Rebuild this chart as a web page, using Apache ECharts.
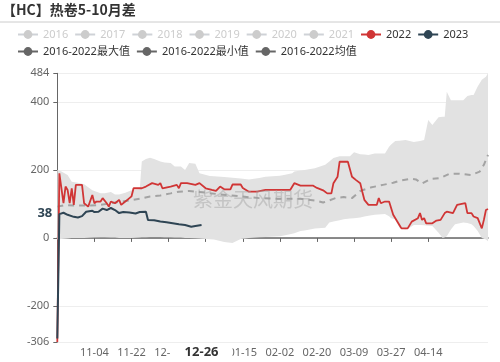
<!DOCTYPE html>
<html><head><meta charset="utf-8">
<script src="https://cdn.jsdelivr.net/npm/echarts@6/dist/echarts.min.js"></script>
<style>html,body{margin:0;padding:0;background:#fff}#c{width:500px;height:362px}</style>
</head><body><div id="c"></div>
<script>
const monthSpans = [[10,17,31],[11,1,30],[12,1,31],[1,1,31],[2,1,29],[3,1,31],[4,1,30],[5,1,13]];
function pad(n){return (n<10?'0':'')+n;}
const categories = [];
monthSpans.forEach(([m,s,e]) => { for (let d=s; d<=e; d++) categories.push(pad(m)+'-'+pad(d)); });

const yTicks = [-306, -200, 0, 200, 400, 484];
const hiddenYears = ['2016','2017','2018','2019','2020','2021'];

const s2022 = [[0,-306],[1,190],[3,102],[4,151],[5,141],[6,102],[7,146],[8,97],[9,156],[12,156],[13,102],[15,92],[17,126],[18,102],[19,107],[21,107],[22,117],[24,102],[25,92],[26,107],[28,102],[30,112],[31,97],[33,107],[34,112],[36,122],[37,146],[41,146],[43,151],[46,161],[49,156],[50,161],[51,146],[55,151],[58,156],[59,146],[60,161],[63,161],[67,156],[69,161],[72,146],[75,141],[77,138],[79,151],[81,143],[84,143],[85,157],[89,157],[90,147],[93,136],[97,136],[101,141],[113,141],[115,161],[118,154],[124,154],[126,147],[129,140],[131,131],[133,131],[134,161],[136,180],[137,224],[141,224],[143,180],[145,170],[147,161],[148,136],[149,112],[151,97],[155,97],[156,117],[157,102],[159,107],[161,107],[163,68],[166,38],[167,28],[170,28],[172,48],[175,58],[176,73],[177,53],[178,58],[179,43],[182,43],[184,51],[186,53],[188,73],[189,77],[192,73],[194,97],[198,102],[199,73],[201,73],[202,63],[204,58],[206,28],[207,53],[208,82],[209,85]];
const s2023 = [[0,-296],[1,70],[3,74],[5,68],[8,62],[10,60],[12,64],[14,77],[17,80],[18,76],[20,77],[22,86],[24,82],[26,88],[28,82],[30,73],[32,76],[35,75],[38,72],[40,76],[43,77],[44,53],[47,52],[50,48],[53,46],[56,43],[59,40],[62,38],[65,33],[67,35],[70,38]];
const sMean = [[0,92],[4,97],[8,95],[14,95],[21,97],[29,105],[35,110],[40,115],[45,122],[50,125],[55,131],[59,136],[64,138],[69,135],[79,128],[89,122],[98,117],[108,115],[118,115],[125,110],[129,104],[135,117],[139,120],[143,117],[147,138],[152,148],[158,156],[163,162],[166,168],[172,174],[174,172],[177,160],[181,173],[186,176],[190,188],[195,189],[201,185],[205,195],[207,215],[209,244]];
const bandDays = [0,2,5,7,10,13,17,21,23,26,28,30,33,36,40,41,43,45,47,50,52,55,57,60,62,64,67,69,74,76,81,85,89,93,98,101,108,110,114,115,118,120,125,130,132,134,137,139,142,144,147,149,151,154,159,161,162,164,166,169,171,173,176,178,180,182,185,187,188,189,191,193,197,199,201,202,204,206,208,209];
const bandMax = [200,195,185,165,162,158,140,131,131,135,128,128,133,140,142,225,232,236,232,225,222,220,210,210,200,220,218,190,182,181,179,177,175,172,176,180,183,185,190,195,198,200,205,215,225,235,240,240,240,252,246,245,244,248,248,268,275,285,286,288,285,282,285,288,347,332,355,356,356,430,405,405,405,417,420,420,445,465,474,484];
const bandMin = [-5,-3,-2,0,0,0,1,2,2,1,1,0,0,0,1,2,2,3,3,3,2,2,1,1,0,0,-1,-2,-4,-5,-12,-15,-3,0,2,3,5,7,12,14,20,22,28,30,45,48,52,55,57,58,60,63,65,68,70,64,58,55,30,25,30,38,38,37,36,35,15,0,2,5,25,40,45,44,40,35,20,0,-5,-10];

const last2023 = s2023[s2023.length-1];
const labelEvery = 18;
const showIdx = (i) => i > 0 && i < 190 && i % labelEvery === 0;

const chart = echarts.init(document.getElementById('c'));
const darkLegend = {itemStyle:{color:'#666'}, lineStyle:{color:'#666', opacity:1, type:'solid', width:2}};
chart.setOption({
  animation:false,
  textStyle:{fontFamily:'"Noto Sans","Noto Sans CJK SC",sans-serif'},
  title:{text:'【HC】热卷5-10月差', left:0, top:0, padding:[3,2],
    textStyle:{fontSize:14, fontWeight:'bold', color:'#333', fontFamily:'"Noto Sans CJK SC",sans-serif'}},
  graphic:[
    {type:'line', shape:{x1:0,y1:22,x2:500,y2:22}, style:{stroke:'#ccc', lineWidth:1}, silent:true},
    {type:'text', left:193, top:189, z:100, silent:true,
      style:{text:'紫金天风期货', fontSize:20, fill:'rgba(160,160,160,0.45)', fontFamily:'"Noto Sans CJK SC",sans-serif'}}
  ],
  legend:{left:12, top:24, width:476, itemWidth:20, itemHeight:11, itemGap:6,
    textStyle:{fontSize:11, color:'#333'}, inactiveColor:'#ccc',
    selected:Object.fromEntries(hiddenYears.map(y=>[y,false])),
    data:[...hiddenYears, '2022', '2023',
      Object.assign({name:'2016-2022最大值'}, darkLegend),
      Object.assign({name:'2016-2022最小值'}, darkLegend),
      Object.assign({name:'2016-2022均值'}, darkLegend)]},
  grid:{left:57.3, right:12, top:73.3, bottom:20},
  xAxis:[
    {type:'category', data:categories, boundaryGap:false, position:'bottom',
      axisLine:{show:false, onZero:false}, axisTick:{show:false},
      axisLabel:{interval:showIdx, color:'#666', fontSize:11, margin:5},
      splitLine:{show:false},
      axisPointer:{show:true, status:'show', value:last2023[0], type:'none', snap:true,
        label:{show:true, backgroundColor:'#fff', color:'#333', fontWeight:'bold', fontSize:13, padding:[1,14], margin:3}}},
    {type:'category', data:categories, boundaryGap:false, position:'bottom',
      axisLine:{show:true, onZero:true, lineStyle:{color:'#666', width:1.5}},
      axisTick:{show:true, interval:showIdx, length:4, lineStyle:{color:'#666'}},
      axisLabel:{show:false}, splitLine:{show:false}}
  ],
  yAxis:{type:'value', min:-306, max:484,
    axisLine:{show:true, lineStyle:{color:'#666'}},
    axisTick:{show:true, length:4, customValues:yTicks, lineStyle:{color:'#666'}},
    axisLabel:{customValues:yTicks, color:'#666', fontSize:11, margin:8},
    splitLine:{show:true, lineStyle:{color:'#eee'}},
    axisPointer:{show:true, status:'show', value:last2023[1], type:'none',
      label:{show:true, backgroundColor:'transparent', color:'#2f4554', fontWeight:'bold', fontSize:13, padding:[0,2,24,2],
        formatter:(p)=>String(Math.round(p.value))}}},
  series:[
    ...hiddenYears.map(y=>({name:y, type:'line', data:[], symbol:'circle', showSymbol:false, itemStyle:{color:'#ccc'}})),
    {name:'2016-2022最小值', type:'line', stack:'band', stackStrategy:'all',
      data:bandDays.map((d,i)=>[d, bandMin[i]]), symbol:'circle', showSymbol:false,
      lineStyle:{opacity:0}, itemStyle:{color:'#666'}, z:1, silent:true},
    {name:'2016-2022最大值', type:'line', stack:'band', stackStrategy:'all',
      data:bandDays.map((d,i)=>[d, bandMax[i]-bandMin[i]]), symbol:'circle', showSymbol:false,
      lineStyle:{opacity:0}, areaStyle:{color:'#e2e2e2', opacity:1}, itemStyle:{color:'#666'}, z:1, silent:true},
    {name:'2016-2022均值', type:'line', data:sMean, symbol:'circle', showSymbol:false,
      lineStyle:{color:'#a3a3a3', type:[6,5], width:2}, itemStyle:{color:'#666'}, z:3},
    {name:'2022', type:'line', data:s2022, symbol:'circle', showSymbol:false,
      lineStyle:{color:'#d03535', width:1.8}, itemStyle:{color:'#d03535'}, z:4},
    {name:'2023', type:'line', data:s2023, symbol:'circle', showSymbol:false,
      lineStyle:{color:'#2f4554', width:2}, itemStyle:{color:'#2f4554'}, z:5}
  ]
});
</script></body></html>
